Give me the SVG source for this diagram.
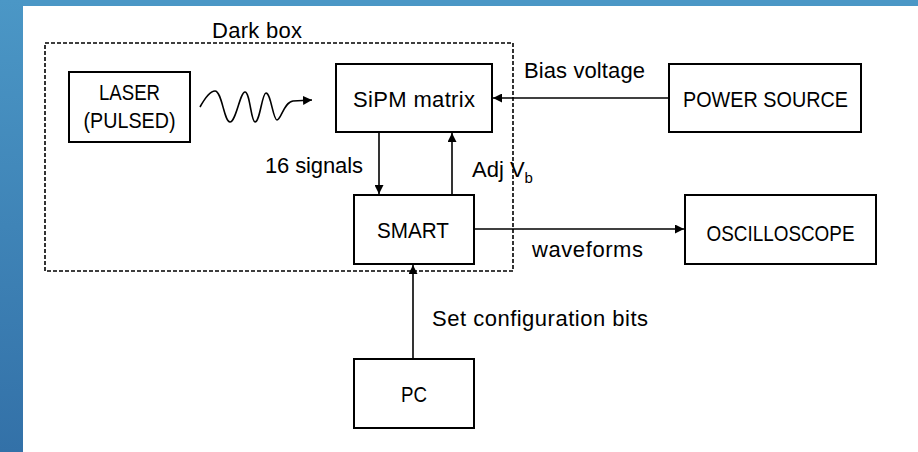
<svg xmlns="http://www.w3.org/2000/svg" width="918" height="452" viewBox="0 0 918 452">
  <style>
    .box { fill: #ffffff; stroke: #000000; stroke-width: 2; }
    .lbl { font-family: "Liberation Sans", Arial, sans-serif; fill: #000000; }
    .cap { font-size: 22px; text-anchor: middle; }
    .low { font-size: 22px; }
    .wire { fill: none; stroke: #000000; stroke-width: 1.6; }
  </style>
  <defs>
    <linearGradient id="side" x1="0" y1="0" x2="0" y2="1">
      <stop offset="0" stop-color="#4b97c6"/>
      <stop offset="1" stop-color="#3371a8"/>
    </linearGradient>
    <marker id="arr" viewBox="0 0 10 10" refX="10" refY="5" markerWidth="9" markerHeight="9" markerUnits="userSpaceOnUse" orient="auto">
      <path d="M0,0 L10,5 L0,10 Z" fill="#000000"/>
    </marker>
  </defs>

  <!-- slide background -->
  <rect x="0" y="0" width="918" height="452" fill="#ffffff"/>
  <rect x="0" y="0" width="918" height="6" fill="#4b97c6"/>
  <rect x="0" y="0" width="23" height="452" fill="url(#side)"/>

  <!-- dark box -->
  <g id="darkbox">
    <rect x="45" y="43" width="468" height="228" fill="none" stroke="#000000" stroke-width="1.6" stroke-dasharray="4 2"/>
    <text class="lbl low" x="212" y="38" textLength="90">Dark box</text>
  </g>

  <g id="laser">
    <rect class="box" x="69" y="72" width="121" height="70"/>
    <text class="lbl cap" x="129.5" y="100" textLength="61" lengthAdjust="spacingAndGlyphs">LASER</text>
    <text class="lbl cap" x="129.5" y="128" textLength="92" lengthAdjust="spacingAndGlyphs">(PULSED)</text>
  </g>

  <g id="sipm">
    <rect class="box" x="336" y="64" width="156" height="68"/>
    <text class="lbl low" x="353" y="107" textLength="122">SiPM matrix</text>
  </g>

  <g id="power">
    <rect class="box" x="669" y="64" width="192" height="68"/>
    <text class="lbl cap" x="765.5" y="107" textLength="165" lengthAdjust="spacingAndGlyphs">POWER SOURCE</text>
  </g>

  <g id="smart">
    <rect class="box" x="354" y="195" width="120" height="69"/>
    <text class="lbl cap" x="413" y="238" textLength="72" lengthAdjust="spacingAndGlyphs">SMART</text>
  </g>

  <g id="osc">
    <rect class="box" x="685" y="195" width="191" height="69"/>
    <text class="lbl cap" x="780.5" y="241" textLength="148" lengthAdjust="spacingAndGlyphs">OSCILLOSCOPE</text>
  </g>

  <g id="pc">
    <rect class="box" x="354" y="359" width="120" height="69"/>
    <text class="lbl cap" x="414" y="402" textLength="26" lengthAdjust="spacingAndGlyphs">PC</text>
  </g>

  <g id="connectors">
    <!-- laser light -->
    <path class="wire" d="M200,107 C205,98 210,91 215,91 C222,91 224,122 230,122 C236,122 240,92 245,92 C250,92 251,122 255,122 C260,122 262,93 266,93 C271,93 273,120 277,120 C281,120 284,102 293,101 L312,100" marker-end="url(#arr)"/>
    <!-- bias voltage -->
    <line class="wire" x1="669" y1="98" x2="493" y2="98" marker-end="url(#arr)"/>
    <!-- 16 signals -->
    <line class="wire" x1="379" y1="132" x2="379" y2="194" marker-end="url(#arr)"/>
    <!-- Adj Vb -->
    <line class="wire" x1="452" y1="195" x2="452" y2="133" stroke-width="2.2" marker-end="url(#arr)"/>
    <!-- waveforms -->
    <line class="wire" x1="474" y1="229" x2="684" y2="229" marker-end="url(#arr)"/>
    <!-- PC to SMART -->
    <line class="wire" x1="413" y1="359" x2="413" y2="265" marker-end="url(#arr)"/>

    <text class="lbl low" x="524" y="78" textLength="121">Bias voltage</text>
    <text class="lbl low" x="265" y="173" textLength="98">16 signals</text>
    <text class="lbl low" x="472" y="177">Adj V<tspan font-size="15" dy="6">b</tspan></text>
    <text class="lbl low" x="532" y="257" textLength="111">waveforms</text>
    <text class="lbl low" x="432" y="326" textLength="216">Set configuration bits</text>
  </g>
</svg>
